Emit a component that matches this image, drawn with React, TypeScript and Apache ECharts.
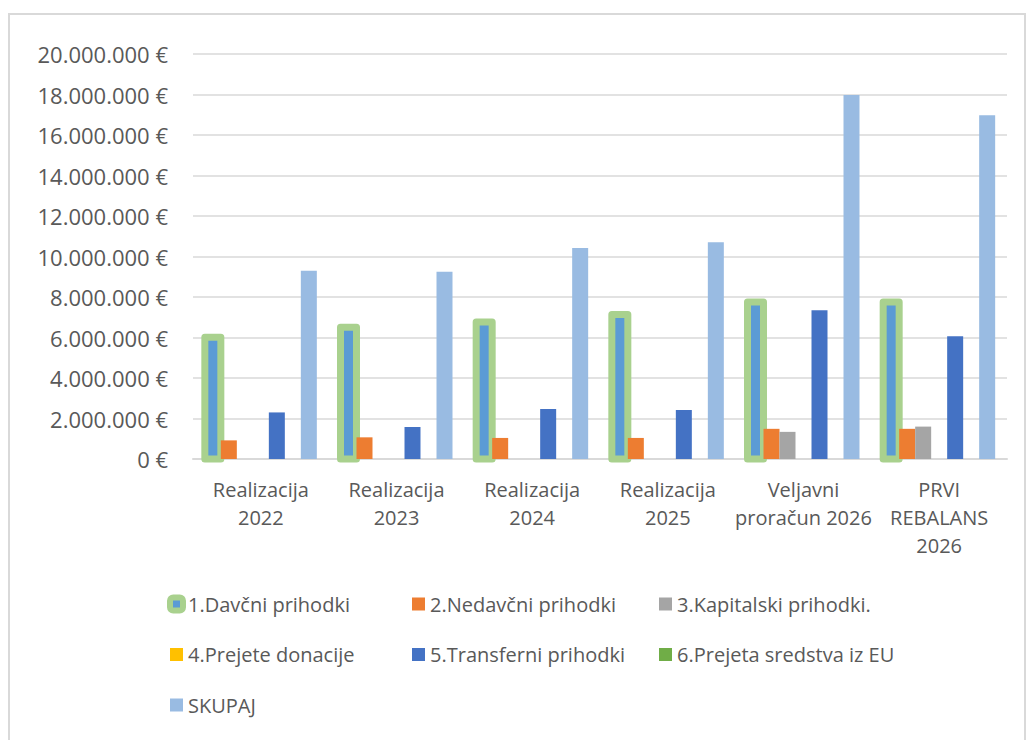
import React, { useEffect, useRef } from "react";
import * as echarts from "echarts";

const categories = [
  "Realizacija\n2022",
  "Realizacija\n2023",
  "Realizacija\n2024",
  "Realizacija\n2025",
  "Veljavni\nproračun 2026",
  "PRVI\nREBALANS\n2026",
];

const seriesNames = [
  "1.Davčni prihodki",
  "2.Nedavčni prihodki",
  "3.Kapitalski prihodki.",
  "4.Prejete donacije",
  "5.Transferni prihodki",
  "6.Prejeta sredstva iz EU",
  "SKUPAJ",
];

const davcni = [6010000, 6510000, 6760000, 7140000, 7750000, 7750000];
const nedavcni = [920000, 1070000, 1040000, 1040000, 1490000, 1490000];
const kapitalski = [0, 0, 0, 0, 1340000, 1600000];
const donacije = [0, 0, 0, 0, 0, 0];
const transferni = [2300000, 1580000, 2470000, 2420000, 7350000, 6060000];
const eu = [0, 0, 0, 0, 0, 0];
const skupaj = [9300000, 9250000, 10420000, 10700000, 17980000, 16970000];

const yTicks = { min: 0, max: 20000000, interval: 2000000 };

const colors = ["#5B9BD5", "#ED7D31", "#A5A5A5", "#FFC000", "#4472C4", "#70AD47", "#99BBE2"];
const davcniBorder = "#A9D18E";

const BAR_W = 16;
const FONT = "Open Sans";
const TEXT = "#595959";

function fmt(v: number): string {
  const s = Math.round(v).toString().replace(/\B(?=(\d{3})+(?!\d))/g, ".");
  return s + " €";
}

export default function App() {
  const ref = useRef<HTMLDivElement>(null);
  useEffect(() => {
    if (!ref.current) return;
    const chart = echarts.init(ref.current, null, { renderer: "svg" });
    const data = [davcni, nedavcni, kapitalski, donacije, transferni, eu, skupaj];
    const barSeries: any[] = seriesNames.map((name, i) => ({
      name,
      type: "bar",
      data: data[i],
      barWidth: BAR_W,
      barGap: "0%",
      itemStyle: { color: i === 0 ? "rgba(0,0,0,0)" : colors[i] },
    }));
    const nSeries = seriesNames.length;
    const firstOffset = -((nSeries - 1) / 2) * BAR_W;
    const outline = {
      name: "outline",
      type: "custom",
      silent: true,
      z: 1,
      data: davcni.map((v, i) => [i, v]),
      encode: { x: 0, y: 1 },
      renderItem: (params: any, api: any) => {
        const ci = api.value(0);
        const v = api.value(1);
        const top = api.coord([ci, v]);
        const base = api.coord([ci, 0]);
        const cx = top[0] + firstOffset;
        return {
          type: "rect",
          shape: { x: cx - BAR_W / 2, y: top[1], width: BAR_W, height: base[1] - top[1] },
          style: { fill: colors[0], stroke: davcniBorder, lineWidth: 7, lineJoin: "round" },
        };
      },
    };
    const series = [outline, ...barSeries];
    const legendText = { fontFamily: FONT, fontSize: 20, color: TEXT, lineHeight: 20 };
    const mkLegend = (left: number, names: string[]) => ({
      orient: "vertical",
      left,
      top: 594,
      padding: 0,
      itemWidth: 13,
      itemHeight: 13,
      itemGap: 30.5,
      selectedMode: false,
      textStyle: legendText,
      data: names.map((n) => {
        const idx = seriesNames.indexOf(n);
        if (idx === 0) {
          return {
            name: n,
            icon: "roundRect",
            itemStyle: { color: colors[0], borderColor: davcniBorder, borderWidth: 6 },
          };
        }
        return { name: n, icon: "rect", itemStyle: { color: colors[idx], borderWidth: 0 } };
      }),
    });
    chart.setOption({
      animation: false,
      backgroundColor: "#ffffff",
      graphic: [
        {
          type: "rect",
          shape: { x: 9, y: 14, width: 1016, height: 736 },
          style: { fill: "none", stroke: "#d9d9d9", lineWidth: 2 },
          silent: true,
        },
      ],
      grid: { left: 193, right: 26, top: 54, bottom: 281 },
      legend: [
        mkLegend(167, [seriesNames[0], seriesNames[3], seriesNames[6]]),
        mkLegend(412, [seriesNames[1], seriesNames[4]]),
        mkLegend(659, [seriesNames[2], seriesNames[5]]),
      ],
      xAxis: {
        type: "category",
        data: categories,
        axisTick: { show: false },
        axisLine: { lineStyle: { color: "#d9d9d9", width: 2 } },
        axisLabel: {
          fontFamily: FONT,
          fontSize: 20,
          color: TEXT,
          lineHeight: 28,
          margin: 16,
          interval: 0,
          verticalAlign: "top",
        },
      },
      yAxis: {
        type: "value",
        min: yTicks.min,
        max: yTicks.max,
        interval: yTicks.interval,
        axisLine: { show: false },
        axisTick: { show: false },
        splitLine: { lineStyle: { color: "#d9d9d9", width: 1.5 } },
        axisLabel: {
          fontFamily: FONT,
          fontSize: 22,
          color: TEXT,
          margin: 25,
          formatter: (v: number) => fmt(v),
        },
      },
      series,
    });
    return () => chart.dispose();
  }, []);
  return (
    <div
      ref={ref}
      style={{ position: "fixed", left: 0, top: 0, width: 1033, height: 740 }}
    />
  );
}
